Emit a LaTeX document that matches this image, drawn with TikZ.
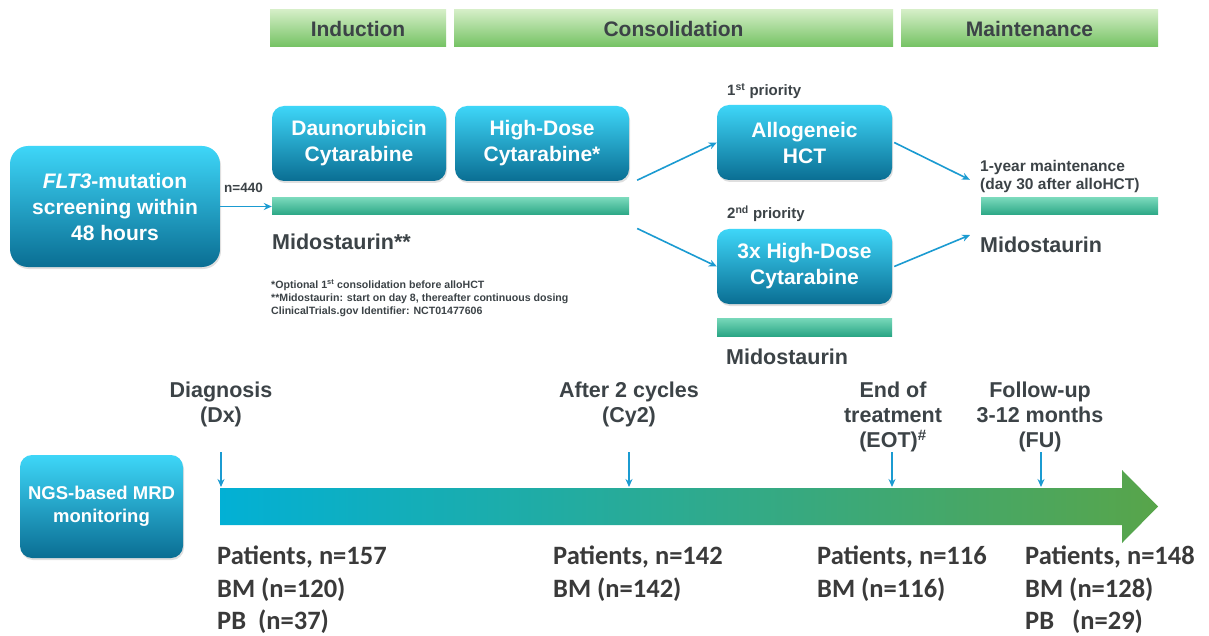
\documentclass[tikz,border=0pt]{standalone}
\usepackage{fontspec}
\setmainfont{Liberation Sans}
\newfontfamily\calib{Carlito}
\usetikzlibrary{shadows,arrows.meta}
\definecolor{tg}{HTML}{3C4347}
\definecolor{cg}{HTML}{3A3A3A}
\definecolor{boxtop}{HTML}{3ED6F8}
\definecolor{boxbot}{HTML}{0A6E93}
\definecolor{hdtop}{HTML}{D4EEC6}
\definecolor{hdbot}{HTML}{74C263}
\definecolor{bartop}{HTML}{78D8BA}
\definecolor{barbot}{HTML}{2AA685}
\definecolor{arrblue}{HTML}{1B9BD1}
\definecolor{tlA}{HTML}{02B0D5}
\definecolor{tlB}{HTML}{06AAB6}
\definecolor{tlC}{HTML}{58A54A}
\begin{document}
\begin{tikzpicture}[x=1pt,y=-1pt,
  bluebox/.style={rounded corners=12pt, top color=boxtop, bottom color=boxbot, text=white,
    font=\bfseries\fontsize{21}{26}\selectfont, align=center, inner sep=0,
    drop shadow={opacity=0.25, shadow xshift=1pt, shadow yshift=-2pt}},
  header/.style={top color=hdtop, bottom color=hdbot, text=tg,
    font=\bfseries\fontsize{21}{24}\selectfont, minimum height=37, inner sep=0},
  medbar/.style={top color=bartop, bottom color=barbot, inner sep=0, minimum height=17},
  lbl/.style={text=tg, font=\bfseries\fontsize{21.5}{25}\selectfont, inner sep=0},
  small/.style={text=tg, font=\bfseries\fontsize{15}{18}\selectfont, inner sep=0},
  tlabel/.style={text=tg, font=\bfseries\fontsize{21.5}{25}\selectfont, inner sep=0, align=center, anchor=north},
  count/.style={text=cg, font=\calib\bfseries\fontsize{26.5}{32.5}\selectfont, inner sep=0, align=left, anchor=north west},
  arr/.style={draw=arrblue, line width=1.6pt, -{Stealth[length=8pt,width=7pt]}}
]
\useasboundingbox (0,0) rectangle (1209,636);
\fill[white] (0,0) rectangle (1209,636);

% headers
\node[header, minimum width=176] (ind) at (358,28.5) {Induction};
\node[header, minimum width=439] (cons) at (673.5,28.5) {Consolidation};
\node[header, minimum width=257] (mnt) at (1029.5,28.5) {Maintenance};

% boxes
\node[bluebox, rounded corners=18pt, minimum width=210, minimum height=121] (flt) at (115,206.5)
  {\textit{FLT3}-mutation\\screening within\\48 hours};
\node[bluebox, minimum width=174, minimum height=75] (dauno) at (359,143.5) {Daunorubicin\\Cytarabine};
\node[bluebox, minimum width=174, minimum height=75] (hd) at (542,143.5) {High-Dose\\Cytarabine*};
\node[bluebox, minimum width=175, minimum height=75] (allo) at (804.5,142.5) {Allogeneic\\HCT};
\node[bluebox, minimum width=175, minimum height=75] (hd3) at (804.5,266.5) {3x High-Dose\\Cytarabine};
\node[bluebox, minimum width=163, minimum height=103, font=\bfseries\fontsize{18.5}{23}\selectfont] (ngs) at (101.5,506.5)
  {NGS-based MRD\\monitoring};

% midostaurin bars
\node[medbar, minimum width=357] (bar1) at (450.5,206.5) {};
\node[medbar, minimum width=177] (bar2) at (1069.5,206.5) {};
\node[medbar, minimum width=175, minimum height=18] (bar3) at (804.5,327) {};

% labels
\node[text=tg, font=\bfseries\fontsize{13.5}{15}\selectfont, inner sep=0, anchor=west] (n440) at (224,188) {n=440};
\node[lbl, anchor=west] (mid1) at (272,242) {Midostaurin**};
\node[text=tg, font=\bfseries\fontsize{10.6}{13}\selectfont, inner sep=0, anchor=north west, align=left] (foot) at (271,279)
  {*Optional 1\textsuperscript{st} consolidation before alloHCT\\**Midostaurin: start on day 8, thereafter continuous dosing\\ClinicalTrials.gov Identifier: NCT01477606};
\node[small, anchor=west] (p1) at (727,91) {1\textsuperscript{st} priority};
\node[small, anchor=west] (p2) at (727,214) {2\textsuperscript{nd} priority};
\node[lbl, anchor=west] (mid3) at (726,357) {Midostaurin};
\node[small, anchor=west, align=left, font=\bfseries\fontsize{15.5}{18}\selectfont] (maint) at (980,176)
  {1-year maintenance\\(day 30 after alloHCT)};
\node[lbl, anchor=west] (mid2) at (980,245) {Midostaurin};

% connectors top
\draw[arr] (flt.east) -- (bar1.west);
\draw[arr] ([shift={(8,-1)}]hd.south east) -- (allo.west);
\draw[arr] ([shift={(8,22)}]bar1.east) -- (hd3.west);
\draw[arr] ([xshift=2pt]allo.east) -- ([shift={(-11,-18)}]bar2.north west);
\draw[arr] ([xshift=2pt]hd3.east) -- ([xshift=-10pt,yshift=10pt]mid2.west);

% timeline arrow
\shade[left color=tlA, middle color=tlB, right color=tlC]
  (220,488) -- (1122,488) -- (1122,470) -- (1158,506.5) -- (1122,543) -- (1122,525) -- (220,525) -- cycle;

% timeline labels
\node[tlabel] (dx) at (221,382) {Diagnosis\\(Dx)};
\node[tlabel] (cy2) at (629,382) {After 2 cycles\\(Cy2)};
\node[tlabel] (eot) at (893,382) {End of\\treatment\\(EOT)\textsuperscript{\#}};
\node[tlabel] (fu) at (1040,382) {Follow-up\\3-12 months\\(FU)};

\coordinate (s1) at (221,452); \coordinate (e1) at (221,487);
\coordinate (s2) at (629,452); \coordinate (e2) at (629,487);
\coordinate (s3) at (892,452); \coordinate (e3) at (892,487);
\coordinate (s4) at (1041,452); \coordinate (e4) at (1041,487);
\foreach \i in {1,2,3,4} {\draw[arr, line width=1.4pt] (s\i) -- (e\i);}

% counts
\node[count] (c1) at (217,546) {Patients, n=157\\BM (n=120)\\PB\ \ (n=37)};
\node[count] (c2) at (553,546) {Patients, n=142\\BM (n=142)};
\node[count] (c3) at (817,546) {Patients, n=116\\BM (n=116)};
\node[count] (c4) at (1025,546) {Patients, n=148\\BM (n=128)\\PB\ \ \ (n=29)};
\end{tikzpicture}
\end{document}
